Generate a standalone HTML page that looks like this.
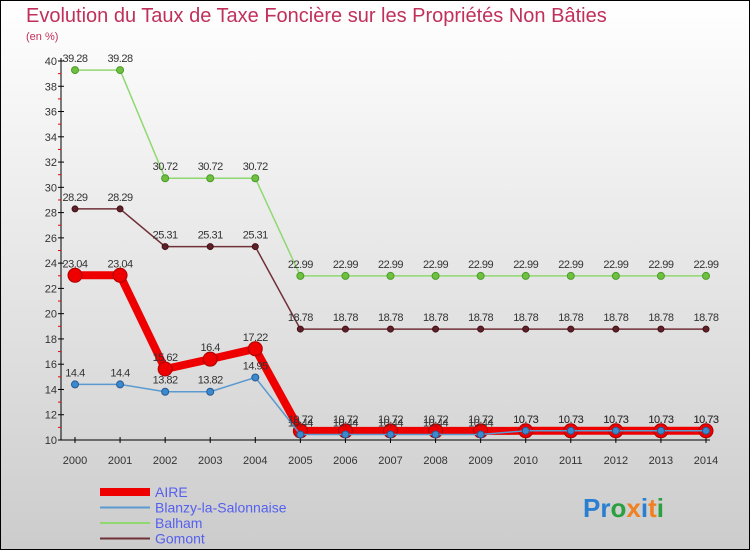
<!DOCTYPE html>
<html><head><meta charset="utf-8"><style>
body{margin:0}
svg{display:block;font-family:"Liberation Sans",sans-serif}
</style></head><body>
<svg width="750" height="550" viewBox="0 0 750 550">
<defs><linearGradient id="bg" x1="0" y1="0" x2="0" y2="1"><stop offset="0" stop-color="#ffffff"/><stop offset="1" stop-color="#cccccc"/></linearGradient></defs>
<rect x="0.5" y="0.5" width="749" height="549" fill="url(#bg)" stroke="#000"/>
<text x="26" y="22" font-size="20" fill="#c0305a">Evolution du Taux de Taxe Foncière sur les Propriétés Non Bâties</text>
<text x="26" y="40" font-size="11" fill="#c0305a">(en %)</text>
<g id="axes"></g>
<g id="series"></g>
<g id="legend"></g>
<text x="583" y="517" font-size="26" font-weight="bold"><tspan fill="#2a7fd0">Pr</tspan><tspan fill="#2aa040">o</tspan><tspan fill="#f08020">x</tspan><tspan fill="#2a7fd0">i</tspan><tspan fill="#f08020">t</tspan><tspan fill="#2aa040">i</tspan></text>
</svg>
<script>
const years=[2000,2001,2002,2003,2004,2005,2006,2007,2008,2009,2010,2011,2012,2013,2014];
const aire=[23.04,23.04,15.62,16.4,17.22,10.72,10.72,10.72,10.72,10.72,10.73,10.73,10.73,10.73,10.73];
const blanzy=[14.4,14.4,13.82,13.82,14.95,10.44,10.44,10.44,10.44,10.44,10.73,10.73,10.73,10.73,10.73];
const balham=[39.28,39.28,30.72,30.72,30.72,22.99,22.99,22.99,22.99,22.99,22.99,22.99,22.99,22.99,22.99];
const gomont=[28.29,28.29,25.31,25.31,25.31,18.78,18.78,18.78,18.78,18.78,18.78,18.78,18.78,18.78,18.78];
const yTicks=[10,12,14,16,18,20,22,24,26,28,30,32,34,36,38,40];
const NS="http://www.w3.org/2000/svg";
const X=i=>75+i*(706-75)/(years.length-1);
const Y=v=>440-(v-10)*(440-61)/30;
function mk(t,a,p){const e=document.createElementNS(NS,t);for(const k in a)e.setAttribute(k,a[k]);p.appendChild(e);return e;}
const ax=document.getElementById('axes');
let yl=mk('line',{x1:61,y1:58,x2:61,y2:440,stroke:'#000'},ax);


let xl=mk('line',{x1:61,y1:440,x2:710,y2:440,stroke:'#000'},ax);


yTicks.forEach(v=>{
  mk('line',{x1:58,y1:Y(v),x2:64,y2:Y(v),stroke:'#000'},ax);
  if(v<40)mk('line',{x1:58,y1:Y(v+1),x2:61,y2:Y(v+1),stroke:'#e00'},ax);
  const t=mk('text',{x:57,y:Y(v)+4,'font-size':11,'text-anchor':'end',fill:'#333'},ax);t.textContent=v;
  
  
});
years.forEach((y,i)=>{
  mk('line',{x1:X(i),y1:437,x2:X(i),y2:443,stroke:'#000'},ax);
  const t=mk('text',{x:X(i),y:464,'font-size':11,'text-anchor':'middle',fill:'#333'},ax);t.textContent=y;
  
  
});
const sg=document.getElementById('series');
function draw(vals,color,w,r,fill,name,stroke){
  const g=mk('g',{},sg);
  
  
  mk('polyline',{points:vals.map((v,i)=>X(i)+','+Y(v)).join(' '),fill:'none',stroke:color,'stroke-width':w},g);
  vals.forEach((v,i)=>{
    const c=mk('circle',{cx:X(i),cy:Y(v),r:r,fill:fill,stroke:stroke,'stroke-width':1},g);
    
    
    const t=mk('text',{x:X(i),y:Y(v)-8,'font-size':11,'text-anchor':'middle',fill:'#333','letter-spacing':'-0.5'},g);
    t.textContent=v;
    
    
  });
}
draw(balham,'#90d870',1.5,3.5,'#70c040','balham','#4a9a2a');
draw(gomont,'#703038',1.5,3,'#602028','gomont','#401018');
draw(aire,'#ee0000',8,7,'#ee0000','aire','#aa0000');
draw(blanzy,'#5a9ad0',1.5,3.5,'#3a8ad0','blanzy','#2a5a90');
const lg=document.getElementById('legend');
const leg=[['AIRE','#ee0000',8],['Blanzy-la-Salonnaise','#5a9ad0',2],['Balham','#90d870',2],['Gomont','#703038',2]];
leg.forEach((l,i)=>{
  const y=492+i*15.5;
  const g=mk('g',{},lg);
  
  
  mk('line',{x1:100,y1:y,x2:150,y2:y,stroke:l[1],'stroke-width':l[2]},g);
  const t=mk('text',{x:155,y:y+5,'font-size':14,fill:'#5560ee'},g);t.textContent=l[0];
});
</script>
</body></html>
